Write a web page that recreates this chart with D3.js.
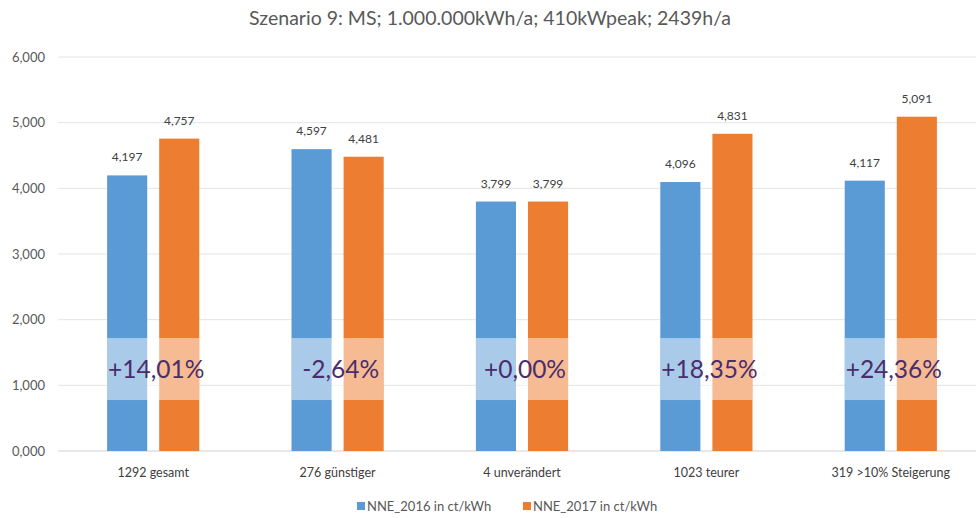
<!DOCTYPE html>
<html>
<head>
<meta charset="utf-8">
<script src="https://cdn.jsdelivr.net/npm/d3@7"></script>
<style>
  body { margin: 0; background: #fff; }
  text { font-family: Lato, "Open Sans", sans-serif; }
</style>
</head>
<body>
<div id="chart"></div>
<script>
var categories = ["1292 gesamt", "276 günstiger", "4 unverändert", "1023 teurer", "319 >10% Steigerung"]
var seriesNames = ["NNE_2016 in ct/kWh", "NNE_2017 in ct/kWh"]
var nne2016 = [4.197, 4.597, 3.799, 4.096, 4.117]
var nne2017 = [4.757, 4.481, 3.799, 4.831, 5.091]
var changes = ["+14,01%", "-2,64%", "+0,00%", "+18,35%", "+24,36%"]
var yTicks = [0, 1, 2, 3, 4, 5, 6]

var w = 976
var h = 518
var colors = ["#5b9bd5", "#ed7d31"]

var fmt = v => d3.format(",.3f")(v).replace(".", ",")

var xScale = d3.scaleBand().domain(categories).range([61, 983]).paddingInner(0.5).paddingOuter(0.25)
var xInner = d3.scaleBand().domain(seriesNames).range([0, xScale.bandwidth()]).paddingInner(0.23)
var yScale = d3.scaleLinear().domain([0, 6]).range([451, 57])

var svg = d3.select("#chart").append("svg")
  .attr("width", w)
  .attr("height", h)

svg.append("text")
  .attr("x", 490)
  .attr("y", 25)
  .attr("text-anchor", "middle")
  .attr("font-size", 19.5)
  .attr("fill", "#595959")
  .text("Szenario 9: MS; 1.000.000kWh/a; 410kWpeak; 2439h/a")

// grid + y labels
var grid = svg.append("g")
grid.selectAll("line").data(yTicks).enter().append("line")
  .attr("x1", 58).attr("x2", w)
  .attr("y1", d => yScale(d)).attr("y2", d => yScale(d))
  .attr("stroke", d => d == 0 ? "#d0d0d0" : "#e4e4e4")
  .attr("stroke-width", 1)

grid.selectAll("text").data(yTicks).enter().append("text")
  .attr("x", 45)
  .attr("y", d => yScale(d))
  .attr("dy", "0.35em")
  .attr("text-anchor", "end")
  .attr("font-size", 13)
  .attr("fill", "#595959")
  .text(d => fmt(d))

var data = categories.map((c, i) => ({cat: c, vals: [nne2016[i], nne2017[i]], change: changes[i]}))

var groups = svg.selectAll(".grp").data(data).enter().append("g")
  .attr("class", "grp")
  .attr("transform", d => "translate(" + xScale(d.cat) + ",0)")

groups.selectAll("rect.bar").data(d => d.vals.map((v, j) => ({key: seriesNames[j], v: v, j: j})))
  .enter().append("rect")
  .attr("class", "bar")
  .attr("x", d => xInner(d.key))
  .attr("width", xInner.bandwidth())
  .attr("y", d => yScale(d.v))
  .attr("height", d => yScale(0) - yScale(d.v))
  .attr("fill", d => colors[d.j])

groups.selectAll("text.val").data(d => d.vals.map((v, j) => ({key: seriesNames[j], v: v})))
  .enter().append("text")
  .attr("class", "val")
  .attr("x", d => xInner(d.key) + xInner.bandwidth() / 2)
  .attr("y", d => yScale(d.v) - 14)
  .attr("text-anchor", "middle")
  .attr("font-size", 12)
  .attr("fill", "#404040")
  .text(d => fmt(d.v))

// percentage box
groups.append("rect")
  .attr("x", 0)
  .attr("width", xScale.bandwidth())
  .attr("y", yScale(1.72))
  .attr("height", yScale(0.776) - yScale(1.72))
  .attr("fill", "#fff")
  .attr("opacity", 0.48)

groups.append("text")
  .attr("x", xScale.bandwidth() / 2 + 3)
  .attr("y", yScale(1.25))
  .attr("dy", "0.36em")
  .attr("text-anchor", "middle")
  .attr("font-size", 24.5)
  .attr("fill", "#4a2d6b")
  .text(d => d.change)

// x labels
svg.selectAll(".xl").data(categories).enter().append("text")
  .attr("class", "xl")
  .attr("x", d => xScale(d) + xScale.bandwidth() / 2)
  .attr("y", 477)
  .attr("text-anchor", "middle")
  .attr("font-size", 12.5)
  .attr("fill", "#404040")
  .text(d => d)

// legend
var legX = [357, 523]
var leg = svg.selectAll(".leg").data(seriesNames).enter().append("g")
  .attr("class", "leg")
  .attr("transform", (d, i) => "translate(" + legX[i] + ",506)")
leg.append("rect").attr("x", 0).attr("y", -4).attr("width", 8).attr("height", 8)
  .attr("fill", (d, i) => colors[i])
leg.append("text").attr("x", 10).attr("dy", "0.35em")
  .attr("font-size", 13).attr("fill", "#595959")
  .text(d => d)
</script>
</body>
</html>
